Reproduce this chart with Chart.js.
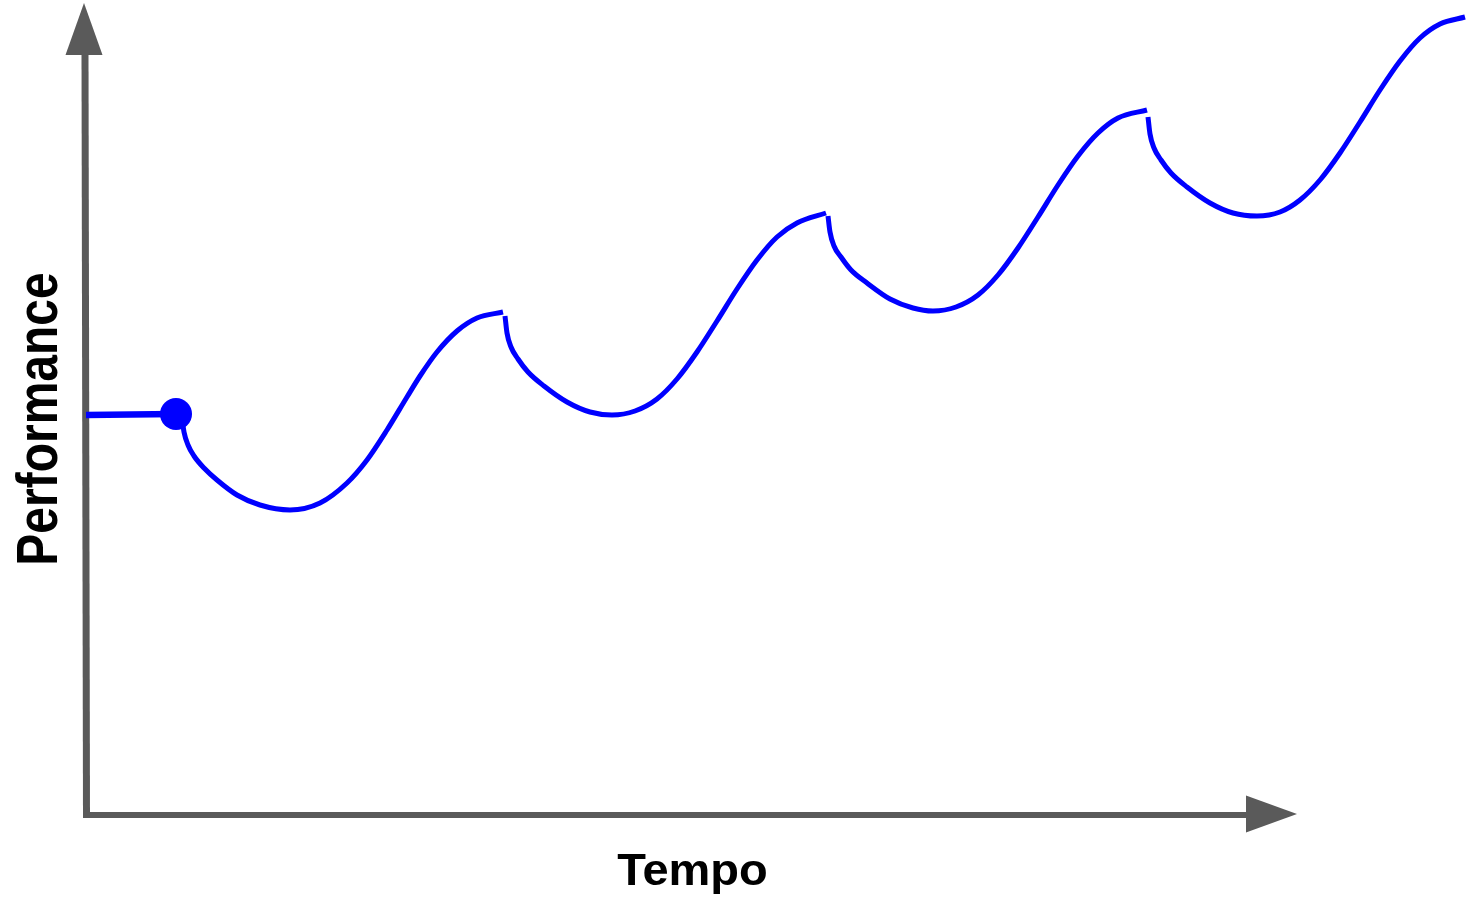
<!DOCTYPE html>
<html>
<head>
<meta charset="utf-8">
<script src="https://cdn.jsdelivr.net/npm/chart.js@4/dist/chart.umd.min.js"></script>
<style>
  body { margin: 0; background: #fff; }
  #wrap { width: 1466px; height: 901px; }
</style>
</head>
<body>
<div id="wrap"><canvas id="perfChart"></canvas></div>
<script>
// values (tempo along x, performance along y)
const startTempo = [0, 90];
const startPerf = [400, 401];

const dotTempo = [90];
const dotPerf = [401];

const seg1Tempo = [96, 98, 102, 108, 118, 131, 151, 174, 204, 234, 261, 281, 301, 321, 334, 351, 371, 391, 417];
const seg1Perf  = [397, 383, 370, 359, 347, 335, 320, 310, 305, 312, 332, 355, 385, 418, 439, 463, 484, 497, 503];

const seg2Tempo = [419, 421, 425, 432, 442, 458, 481, 504, 526, 549, 571, 591, 611, 631, 651, 671, 691, 711, 740];
const seg2Perf  = [499, 482, 468, 456, 443, 429, 413, 403, 400, 404, 416, 436, 463, 494, 526, 555, 578, 592, 602];

const seg3Tempo = [742, 744, 748, 755, 765, 781, 804, 827, 847, 870, 892, 912, 932, 952, 972, 992, 1012, 1032, 1061];
const seg3Perf  = [599, 583, 569, 558, 545, 532, 516, 507, 504, 508, 520, 540, 567, 598, 630, 659, 682, 697, 705];

const seg4Tempo = [1062, 1064, 1068, 1075, 1085, 1101, 1124, 1147, 1171, 1194, 1214, 1234, 1254, 1274, 1294, 1314, 1334, 1354, 1379];
const seg4Perf  = [698, 681, 667, 655, 642, 628, 612, 602, 599, 603, 615, 635, 662, 693, 725, 754, 777, 791, 798];

const xTitle = 'Tempo';
const yTitle = 'Performance';

// axis arrow tips, in data units
const xArrowTip = 1211;
const yArrowTip = 812;

const blue = '#0000ff';
const gray = '#5a5a5a';

const toPoints = (xs, ys) => xs.map((x, i) => ({ x: x, y: ys[i] }));

function curve(xs, ys) {
  return {
    data: toPoints(xs, ys),
    borderColor: blue,
    borderWidth: 5,
    pointRadius: 0,
    cubicInterpolationMode: 'monotone',
    fill: false,
    clip: false
  };
}

const axisArrows = {
  id: 'axisArrows',
  beforeDatasetsDraw(chart) {
    const { ctx, scales: { x, y } } = chart;
    const x0 = x.getPixelForValue(0);
    const y0 = y.getPixelForValue(0);
    const yTip = y.getPixelForValue(yArrowTip);
    const xTip = x.getPixelForValue(xArrowTip);
    const headLen = 51;
    const headHalf = 18.5;

    ctx.save();
    ctx.strokeStyle = gray;
    ctx.fillStyle = gray;

    // vertical axis
    ctx.lineWidth = 7;
    ctx.beginPath();
    ctx.moveTo(x0 + 0.5, y0 + 3);
    ctx.lineTo(x0 - 1, yTip + headLen);
    ctx.stroke();
    ctx.beginPath();
    ctx.moveTo(x0 - 2, yTip);
    ctx.lineTo(x0 - 2 - headHalf, yTip + headLen + 1);
    ctx.lineTo(x0 - 2 + headHalf, yTip + headLen + 1);
    ctx.closePath();
    ctx.fill();

    // horizontal axis
    ctx.lineWidth = 6;
    ctx.beginPath();
    ctx.moveTo(x0 - 2, y0);
    ctx.lineTo(xTip - headLen + 2, y0);
    ctx.stroke();
    ctx.beginPath();
    ctx.moveTo(xTip, y0 - 1);
    ctx.lineTo(xTip - headLen, y0 - 1 - headHalf);
    ctx.lineTo(xTip - headLen, y0 - 1 + headHalf);
    ctx.closePath();
    ctx.fill();
    ctx.restore();
  },
  afterDraw(chart) {
    const { ctx, scales: { x, y } } = chart;
    const x0 = x.getPixelForValue(0);
    const y0 = y.getPixelForValue(0);
    const xTip = x.getPixelForValue(xArrowTip);

    ctx.save();
    ctx.fillStyle = '#000';
    ctx.textAlign = 'center';
    ctx.textBaseline = 'alphabetic';

    // x title
    ctx.font = 'bold 47px "Liberation Sans", Arial, sans-serif';
    ctx.save();
    ctx.translate((x0 + xTip) / 2 + 1, y0 + 70);
    ctx.scale(1, 0.93);
    ctx.fillText(xTitle, 0, 0);
    ctx.restore();

    // y title
    ctx.font = 'bold 48px "Liberation Sans", Arial, sans-serif';
    ctx.save();
    ctx.translate(x0 - 29, y.getPixelForValue(396));
    ctx.rotate(-Math.PI / 2);
    ctx.scale(1, 1.2);
    ctx.fillText(yTitle, 0, 0);
    ctx.restore();

    ctx.restore();
  }
};

new Chart(document.getElementById('perfChart'), {
  type: 'line',
  data: {
    datasets: [
      {
        data: toPoints(startTempo, startPerf),
        borderColor: blue,
        borderWidth: 6.5,
        pointRadius: 0,
        fill: false,
        clip: false
      },
      curve(seg1Tempo, seg1Perf),
      curve(seg2Tempo, seg2Perf),
      curve(seg3Tempo, seg3Perf),
      curve(seg4Tempo, seg4Perf),
      {
        data: toPoints(dotTempo, dotPerf),
        showLine: false,
        pointRadius: 16,
        pointBackgroundColor: blue,
        pointBorderWidth: 0,
        clip: false
      }
    ]
  },
  options: {
    responsive: true,
    maintainAspectRatio: false,
    animation: false,
    layout: { autoPadding: false, padding: { left: 86, right: 0, top: 0, bottom: 86 } },
    plugins: {
      legend: { display: false },
      tooltip: { enabled: false }
    },
    scales: {
      x: { type: 'linear', min: 0, max: 1380, display: false },
      y: { type: 'linear', min: 0, max: 815, display: false }
    }
  },
  plugins: [axisArrows]
});
</script>
</body>
</html>
